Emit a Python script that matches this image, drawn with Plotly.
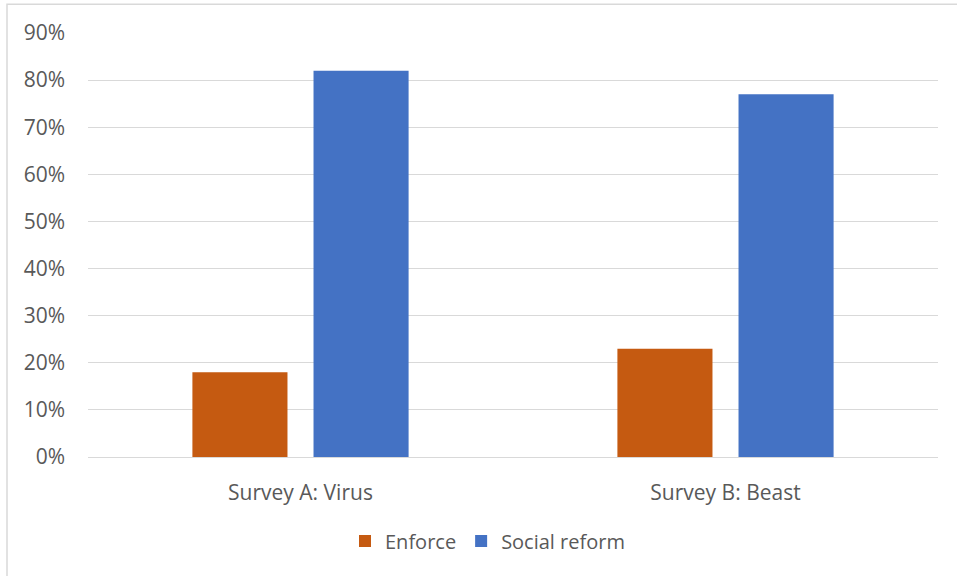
import plotly.graph_objects as go

categories = ["Survey A: Virus", "Survey B: Beast"]
enforce = [0.18, 0.23]
social_reform = [0.82, 0.77]
y_ticks = [0, 0.1, 0.2, 0.3, 0.4, 0.5, 0.6, 0.7, 0.8, 0.9]

FONT = "'Open Sans', Calibri, 'Liberation Sans', sans-serif"
GREY = "#595959"
FS = 21

fig = go.Figure()
fig.add_trace(go.Bar(name="Enforce", x=categories, y=enforce, marker_color="#C55A11",
                     marker_line_width=0))
fig.add_trace(go.Bar(name="Social reform", x=categories, y=social_reform, marker_color="#4472C4",
                     marker_line_width=0))

fig.update_layout(
    width=957, height=576,
    margin=dict(l=88, r=19, t=33, b=119),
    paper_bgcolor="white", plot_bgcolor="white",
    barmode="group", bargap=0.43, bargroupgap=0.215,
    font=dict(family=FONT, size=FS, color=GREY),
    showlegend=True,
    legend=dict(orientation="h", x=0.47, xanchor="center", y=-0.198, yanchor="middle",
                font=dict(size=20, color=GREY), itemwidth=30, traceorder="normal"),
    shapes=[dict(type="rect", xref="paper", yref="paper", x0=-0.0953, x1=1.1, y0=-0.5, y1=1.068,
                 line=dict(color="#D9D9D9", width=1.5), fillcolor="rgba(0,0,0,0)", layer="below")],
)
fig.update_yaxes(range=[0, 0.9], tickvals=y_ticks, tickformat=".0%", showgrid=True,
                 gridcolor="#D9D9D9", gridwidth=1.3, zeroline=False, showline=False,
                 ticks="", ticklabelstandoff=22, tickfont=dict(size=FS, color=GREY))
fig.update_xaxes(showgrid=False, zeroline=False, showline=True, linecolor="#D9D9D9", linewidth=1.3,
                 ticks="", ticklabelstandoff=17, tickfont=dict(size=FS, color=GREY))

fig.write_html("out.html")
